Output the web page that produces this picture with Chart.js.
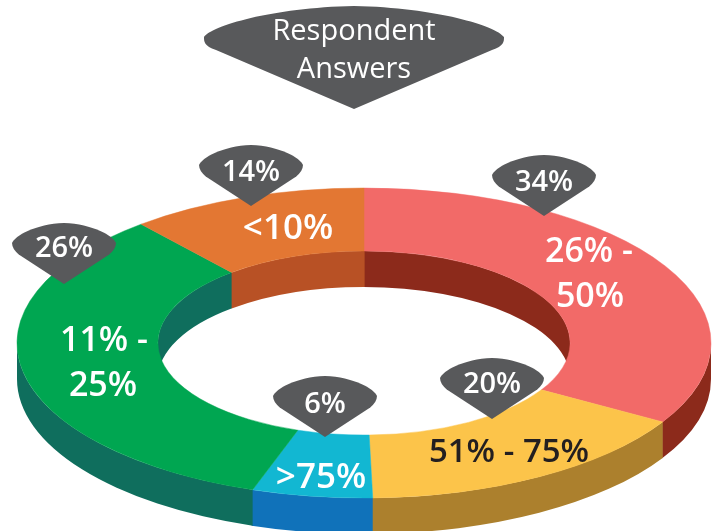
<!DOCTYPE html>
<html>
<head>
<meta charset="utf-8">
<title>Respondent Answers</title>
<script src="https://cdn.jsdelivr.net/npm/chart.js@4"></script>
<style>
  html, body { margin: 0; background: #fff; }
  canvas { display: block; }
</style>
</head>
<body>
<canvas id="ringChart" width="717" height="531"></canvas>
<script>
const categories = ['26% - 50%', '51% - 75%', '>75%', '11% - 25%', '<10%'];
// percentages printed on the callouts
const printedPercents = [34, 20, 6, 26, 14];
// slice sizes as drawn in the picture, they do not follow the printed numbers
const drawnShares = [33.5, 16.1, 5.6, 33.7, 11.1];
const topColors = ['#f26a68', '#fcc44a', '#12b7d2', '#00a651', '#e37733'];
const wallColors = ['#8c2a1b', '#ac802d', '#1072ba', '#0f6e5d', '#b85125'];

const chartTitle = ['Respondent', 'Answers'];

const grey = '#58595b';
const ring = { cx: 364, cy: 343, rx: 347, ry: 155, depth: 36 };

// callout centre for each category, same order as categories
const callouts = [
  { x: 544, y: 175, textY: 191 },
  { x: 492, y: 378, textY: 393 },
  { x: 325, y: 396, textY: 413 },
  { x: 64, y: 243, textY: 257 },
  { x: 251, y: 165, textY: 181 }
];

// text lines on the ring, same order as categories
const ringLabels = [
  [{ t: '26% -', x: 589, y: 262 }, { t: '50%', x: 590, y: 307 }],
  [{ t: '51% - 75%', x: 509, y: 462, size: 33, dark: true }],
  [{ t: '>75%', x: 321, y: 488, size: 35 }],
  [{ t: '11% -', x: 104, y: 351 }, { t: '25%', x: 103, y: 396 }],
  [{ t: '<10%', x: 288, y: 239, size: 35 }]
];

// sideX, sideY: where the straight lower edge ends, as fractions of hw and down
function balloon(ctx, cx, y, hw, up, down, sideX, sideY) {
  ctx.beginPath();
  ctx.moveTo(cx, y + down);
  ctx.lineTo(cx - hw * sideX, y + down * sideY);
  ctx.bezierCurveTo(cx - hw * (sideX + 0.08), y + down * sideY * 0.7, cx - hw, y + down * sideY * 0.35, cx - hw, y);
  ctx.bezierCurveTo(cx - hw * 0.95, y - up * 0.35, cx - hw * 0.55, y - up * 0.95, cx, y - up);
  ctx.bezierCurveTo(cx + hw * 0.55, y - up * 0.95, cx + hw * 0.95, y - up * 0.35, cx + hw, y);
  ctx.bezierCurveTo(cx + hw, y + down * sideY * 0.35, cx + hw * (sideX + 0.08), y + down * sideY * 0.7, cx + hw * sideX, y + down * sideY);
  ctx.closePath();
  ctx.fillStyle = grey;
  ctx.fill();
}

// side wall of a slice between angles lo and hi, k = edge radius / outer radius
function wallBand(ctx, arc, k, lo, hi) {
  const rx = ring.rx * k, ry = ring.ry * k;
  const a0 = Math.max(arc.startAngle, lo);
  const a1 = Math.min(arc.endAngle + 0.003, hi); // a little under the next slice, no hairline between walls
  if (a0 >= a1) return;
  ctx.beginPath();
  ctx.ellipse(ring.cx, ring.cy, rx, ry, 0, a0, a1);
  ctx.ellipse(ring.cx, ring.cy + ring.depth, rx, ry, 0, a1, a0, true);
  ctx.closePath();
  ctx.fill();
}

// squash the round doughnut into the tilted ring, the walls take their angles from the slices
const tiltedRing = {
  id: 'tiltedRing',
  beforeDatasetsDraw(chart) {
    const ctx = chart.ctx;
    const arcs = chart.getDatasetMeta(0).data;
    const r = arcs[0].outerRadius;
    ctx.save();
    arcs.forEach((arc, i) => {
      const k = arc.innerRadius / r;
      ctx.fillStyle = wallColors[i];
      // outer wall only shows on the front half, inner wall only on the back half
      wallBand(ctx, arc, 1, 0, Math.PI);
      wallBand(ctx, arc, k, Math.PI, 1.5 * Math.PI + 0.003);
      wallBand(ctx, arc, k, -Math.PI / 2, 0);
    });
    ctx.restore();

    ctx.save();
    ctx.translate(ring.cx, ring.cy);
    ctx.scale(ring.rx / r, ring.ry / r);
    ctx.translate(-arcs[0].x, -arcs[0].y);
  },
  afterDatasetsDraw(chart) {
    const ctx = chart.ctx;
    ctx.restore();

    ctx.textAlign = 'center';
    ctx.textBaseline = 'alphabetic';

    // title balloon
    balloon(ctx, 354, 37, 150, 31, 72, 0.92, 0.18);
    ctx.fillStyle = '#fff';
    ctx.font = '400 29px "Open Sans"';
    ctx.fillText(chartTitle[0], 354, 40);
    ctx.fillText(chartTitle[1], 354, 78);

    ringLabels.forEach(lines => {
      lines.forEach(l => {
        ctx.fillStyle = l.dark ? '#231f20' : '#fff';
        ctx.font = '600 ' + (l.size || 34) + 'px "Open Sans"';
        ctx.fillText(l.t, l.x, l.y);
      });
    });

    callouts.forEach((c, i) => {
      balloon(ctx, c.x, c.y, 52, 20, 41, 0.87, 0.28);
      ctx.fillStyle = '#fff';
      ctx.font = '600 29px "Open Sans"';
      ctx.fillText(printedPercents[i] + '%', c.x, c.textY);
    });
  }
};

new Chart(document.getElementById('ringChart'), {
  type: 'doughnut',
  data: {
    labels: categories,
    datasets: [{
      data: drawnShares,
      backgroundColor: topColors,
      borderColor: topColors,
      borderWidth: 0.5,
      clip: false
    }]
  },
  options: {
    responsive: false,
    animation: false,
    cutout: '59.4%',
    plugins: {
      legend: { display: false },
      tooltip: { enabled: false }
    }
  },
  plugins: [tiltedRing]
});
</script>
</body>
</html>
